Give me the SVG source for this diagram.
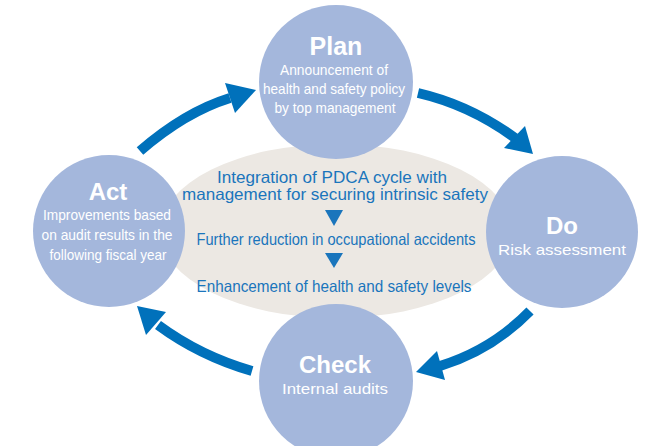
<svg xmlns="http://www.w3.org/2000/svg" width="656" height="446" viewBox="0 0 656 446">
<style>
.c{fill:#a4b7dc}
.t{font-family:"Liberation Sans",Arial,sans-serif;fill:#fff;text-anchor:middle}
.h{font-weight:bold}
.s{font-size:14.5px}
.m{font-family:"Liberation Sans",Arial,sans-serif;fill:#1a75bc;text-anchor:middle;font-size:16.5px}
.a{fill:none;stroke:#0071bb;stroke-width:10}
.ah{fill:#0071bb}
</style>
<rect width="656" height="446" fill="#fff"/>
<ellipse id="center" cx="336" cy="231" rx="176" ry="87" fill="#ece8e3"/>
<g id="connectors">
<path class="a" d="M140,151 Q185,112 230,98"/>
<polygon class="ah" points="225,83 256,90 235,113"/>
<path class="a" d="M418,93 Q470,105 515,138"/>
<polygon class="ah" points="525,126 533,154 504,148"/>
<path class="a" d="M530,311 Q492,350 440,366"/>
<polygon class="ah" points="437,351 416,372 445,380"/>
<path class="a" d="M252,371 Q200,356 158,325"/>
<polygon class="ah" points="166,312 137,306 146,335"/>
</g>
<g id="plan">
<circle class="c" cx="336" cy="82" r="77"/>
<text class="t h" x="336" y="55" font-size="25">Plan</text>
<text class="t s" x="334" y="75" textLength="108" lengthAdjust="spacingAndGlyphs">Announcement of</text>
<text class="t s" x="334" y="94" textLength="142" lengthAdjust="spacingAndGlyphs">health and safety policy</text>
<text class="t s" x="335" y="113" textLength="121" lengthAdjust="spacingAndGlyphs">by top management</text>
</g>
<g id="act">
<circle class="c" cx="109" cy="231" r="76"/>
<text class="t h" x="108" y="200" font-size="24">Act</text>
<text class="t s" x="107" y="220" textLength="128" lengthAdjust="spacingAndGlyphs">Improvements based</text>
<text class="t s" x="107" y="240" textLength="131" lengthAdjust="spacingAndGlyphs">on audit results in the</text>
<text class="t s" x="108" y="260" textLength="117" lengthAdjust="spacingAndGlyphs">following fiscal year</text>
</g>
<g id="do">
<circle class="c" cx="562" cy="232" r="76"/>
<text class="t h" x="562" y="234" font-size="24">Do</text>
<text class="t s" x="562" y="255" textLength="128" lengthAdjust="spacingAndGlyphs">Risk assessment</text>
</g>
<g id="check">
<circle class="c" cx="336" cy="381" r="77"/>
<text class="t h" x="335" y="373" font-size="24">Check</text>
<text class="t s" x="335" y="394" textLength="106" lengthAdjust="spacingAndGlyphs">Internal audits</text>
</g>
<g id="text">
<text class="m" x="332" y="183" textLength="230" lengthAdjust="spacingAndGlyphs">Integration of PDCA cycle with</text>
<text class="m" x="335" y="200" textLength="306" lengthAdjust="spacingAndGlyphs">management for securing intrinsic safety</text>
<polygon fill="#1a75bc" points="325,210 343,210 334,226"/>
<text class="m" x="336" y="245" textLength="279" lengthAdjust="spacingAndGlyphs">Further reduction in occupational accidents</text>
<polygon fill="#1a75bc" points="325,253 343,253 334,268"/>
<text class="m" x="334" y="292" textLength="275" lengthAdjust="spacingAndGlyphs">Enhancement of health and safety levels</text>
</g>
</svg>
